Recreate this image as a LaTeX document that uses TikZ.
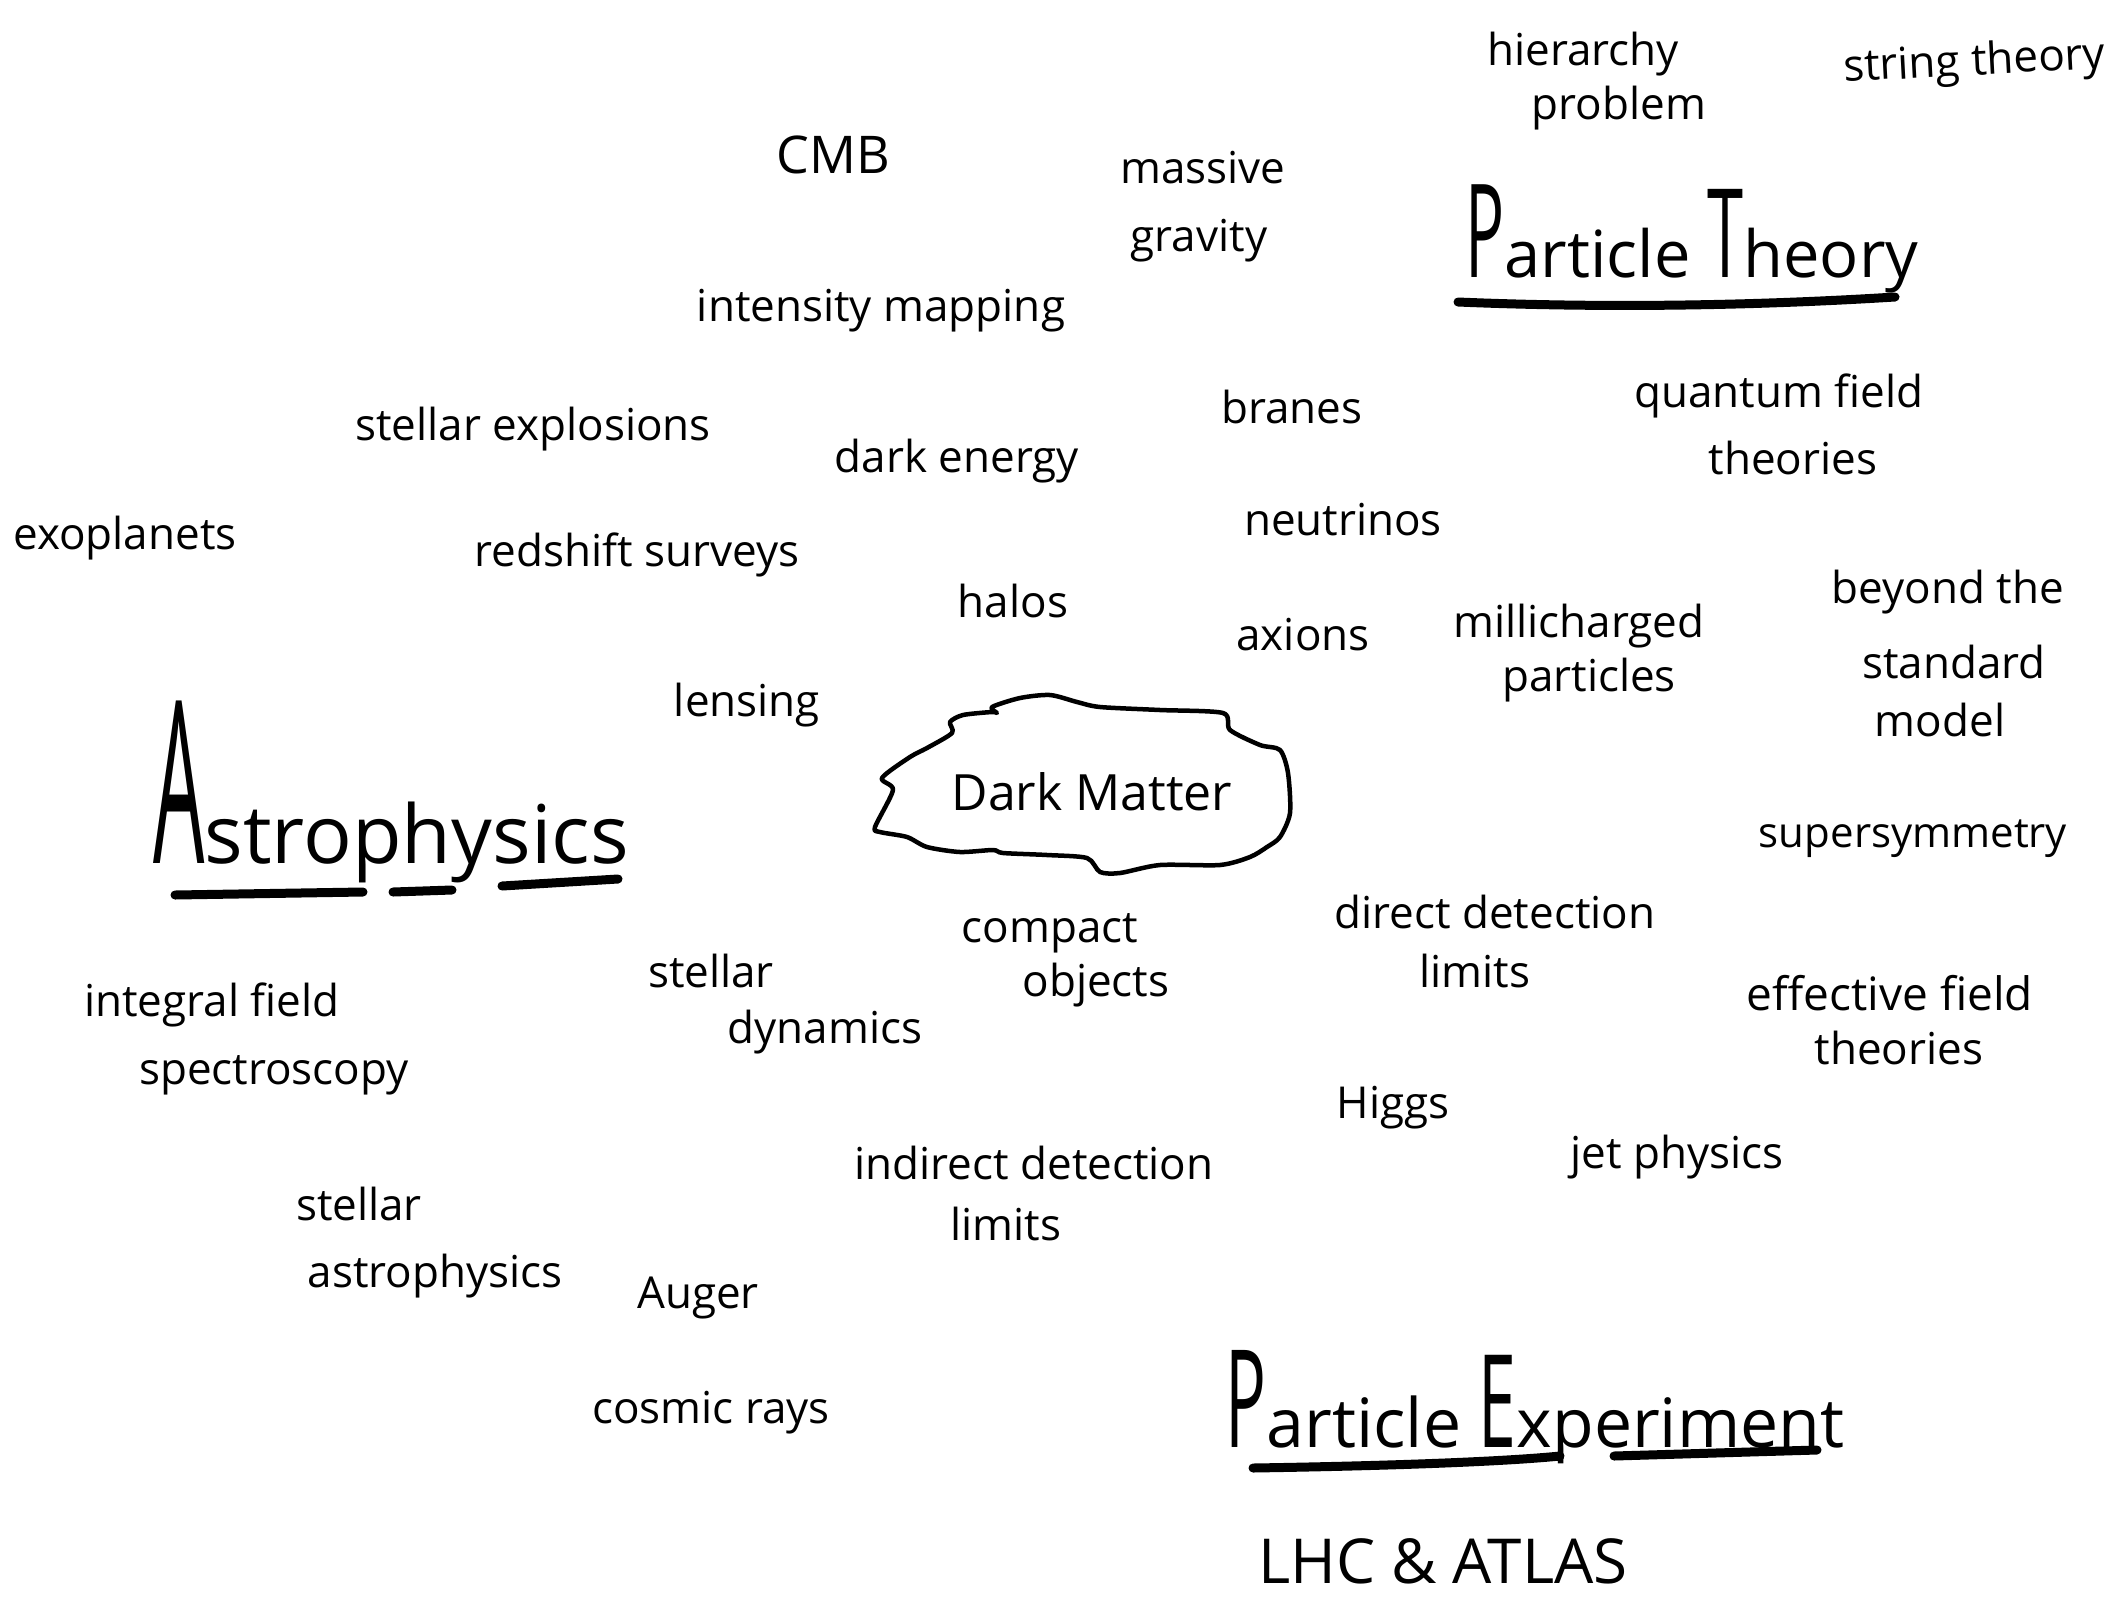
\documentclass[tikz,border=0pt]{standalone}
\usepackage{fontspec}
\usepackage{graphicx}
\setmainfont{Open Sans}
\newcommand\tallcap[2]{\scalebox{1}[#1]{#2}}
\begin{document}
\begin{tikzpicture}[x=1pt,y=-1pt,
  lbl/.style={anchor=base, inner sep=0pt, font=\fontsize{44}{50}\selectfont},
  title/.style={anchor=base, inner sep=0pt},
  uline/.style={line width=9pt, line cap=round},
  blob/.style={line width=4.5pt, line join=round}]
\useasboundingbox[fill=white] (0,0) rectangle (2125,1596);

% top right
\node[lbl] (hier) at (1583,65) {hierarchy};
\node[lbl] (prob) at (1619,119) {problem};
\node[lbl, rotate=3] (string) at (1975,75) {string theory};
\node[lbl, font=\fontsize{52}{56}\selectfont] (cmb) at (833,173) {CMB};
\node[lbl] (massive) at (1203,183) {massive};
\node[lbl] (gravity) at (1199,251) {gravity};

% Particle Theory
\node[title, font=\fontsize{65}{70}\selectfont] (pt) at (1692,277) {\tallcap{2}{P}article \tallcap{1.9}{T}heory};
\draw[uline] (1458,302) .. controls (1600,308) and (1750,306) .. (1895,297);

\node[lbl] (intmap) at (881,321) {intensity mapping};
\node[lbl] (branes) at (1292,423) {branes};
\node[lbl] (qft1) at (1779,407) {quantum field};
\node[lbl] (qft2) at (1793,474) {theories};
\node[lbl] (stexp) at (533,440) {stellar explosions};
\node[lbl] (dark) at (957,472) {dark energy};
\node[lbl] (exo) at (125,549) {exoplanets};
\node[lbl] (neut) at (1343,535) {neutrinos};
\node[lbl] (redshift) at (637,566) {redshift surveys};
\node[lbl] (halos) at (1013,617) {halos};
\node[lbl] (bsm1) at (1948,603) {beyond the};
\node[lbl] (bsm2) at (1954,678) {standard};
\node[lbl] (bsm3) at (1940,736) {model};
\node[lbl] (axions) at (1303,650) {axions};
\node[lbl] (milli1) at (1579,637) {millicharged};
\node[lbl] (milli2) at (1589,691) {particles};
\node[lbl] (lensing) at (747,716) {lensing};

% Astrophysics
\node[title, font=\fontsize{81}{86}\selectfont] (astro) at (391,863) {\tallcap{2.8}{A}strophysics};
\draw[uline] (175,895) -- (363,892);
\draw[uline] (393,892) -- (452,890);
\draw[uline] (502,886) -- (618,879);

% Dark Matter blob
\draw[blob] plot[smooth cycle, tension=0.45] coordinates {
  (875,827) (893,790) (882,778) (910,757) (927,748) (952,733) (950,722)
  (963,715) (992,712) (997,713) (992,707) (1020,698) (1050,695) (1077,702)
  (1100,707) (1160,710) (1223,713) (1230,730) (1260,745) (1280,750)
  (1288,773) (1290,813) (1280,837) (1267,847) (1250,857) (1220,865)
  (1160,865) (1120,873) (1100,872) (1087,858) (1047,855) (1003,853)
  (993,850) (960,852) (927,847) (907,837) (880,832)};
\node[title, font=\fontsize{50}{54}\selectfont] (dm) at (1092,810) {Dark Matter};

\node[lbl, font=\fontsize{42}{48}\selectfont] (susy) at (1913,847) {supersymmetry};
\node[lbl] (comp1) at (1050,942) {compact};
\node[lbl] (comp2) at (1096,996) {objects};
\node[lbl] (dd1) at (1495,928) {direct detection};
\node[lbl] (dd2) at (1475,987) {limits};
\node[lbl] (sd1) at (711,987) {stellar};
\node[lbl] (sd2) at (825,1043) {dynamics};
\node[lbl, font=\fontsize{46}{50}\selectfont] (eft1) at (1890,1010) {effective field};
\node[lbl] (eft2) at (1899,1064) {theories};
\node[lbl] (ifs1) at (212,1016) {integral field};
\node[lbl] (ifs2) at (274,1084) {spectroscopy};
\node[lbl] (higgs) at (1393,1118) {Higgs};
\node[lbl] (jet) at (1677,1168) {jet physics};
\node[lbl] (id1) at (1034,1179) {indirect detection};
\node[lbl] (id2) at (1006,1240) {limits};
\node[lbl] (sa1) at (359,1220) {stellar};
\node[lbl] (sa2) at (435,1287) {astrophysics};
\node[lbl] (auger) at (698,1308) {Auger};
\node[lbl] (cosmic) at (711,1423) {cosmic rays};

% Particle Experiment
\node[title, font=\fontsize{68}{72}\selectfont] (pe) at (1535,1447) {\tallcap{2}{P}article \tallcap{1.9}{E}xperiment};
\draw[uline] (1253,1468) .. controls (1380,1466) and (1500,1462) .. (1560,1456);
\draw[uline] (1614,1456) -- (1817,1450);

\node[lbl, font=\fontsize{62}{66}\selectfont] (lhc) at (1443,1583) {LHC \& ATLAS};
\end{tikzpicture}
\end{document}
